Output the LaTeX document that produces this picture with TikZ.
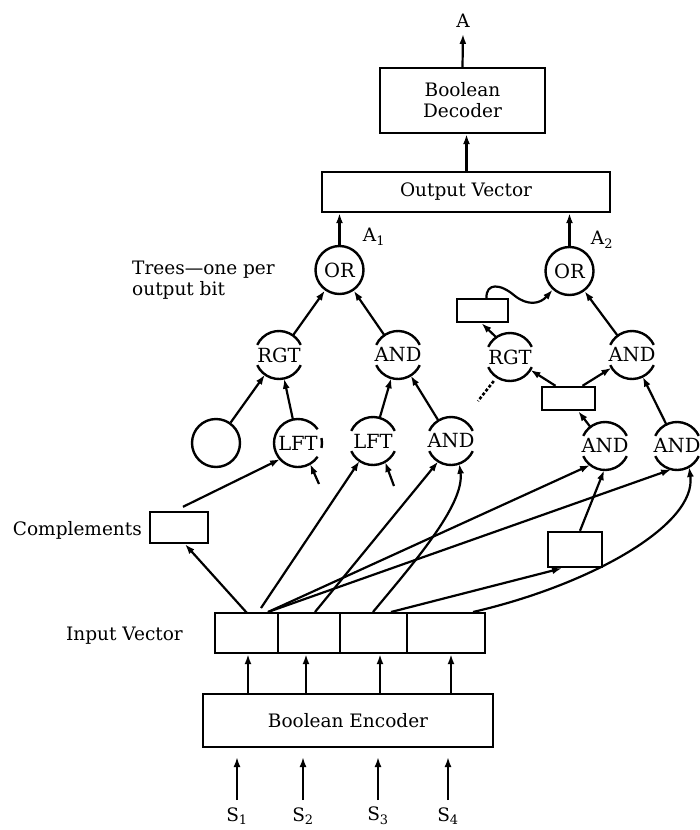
\documentclass[tikz,border=0pt]{standalone}
\usepackage{fontspec}
\setmainfont{DejaVu Serif}
\usetikzlibrary{arrows.meta}
\newcommand\myfnt{\fontsize{18.5}{21}\selectfont}
\newcommand\gatefnt{\fontsize{19.5}{21}\selectfont}
\tikzset{
  lbl/.style={font=\myfnt, inner sep=0pt},
  blk/.style={draw, line width=2.4pt, font=\myfnt, inner sep=0pt, align=center},
  gate/.style={circle, minimum size=48pt, inner sep=-9pt, font=\gatefnt},
  ring/.style={gate, draw, line width=2.4pt},
  gline/.style={line width=2.4pt},
  arr/.style={line width=2.2pt, -{Latex[length=10pt,width=7pt]}},
  wire/.style={line width=2.2pt},
  dotwire/.style={line width=2.6pt, dash pattern=on 3pt off 2pt},
}
\newcommand\gatearcs[1]{%
  \draw[gline] ([shift={(155:24pt)}]#1.center) arc[start angle=155,end angle=25,radius=24pt];
  \draw[gline] ([shift={(205:24pt)}]#1.center) arc[start angle=205,end angle=335,radius=24pt];}
\begin{document}
\begin{tikzpicture}[x=1pt,y=-1pt]
\useasboundingbox (0,0) rectangle (699,830);
\fill[white] (0,0) rectangle (699,830);

% top blocks
\node[lbl] (A) at (463,21) {A};
\node[blk, minimum width=165pt, minimum height=65pt] (dec) at (462.5,100.5) {Boolean\\Decoder};
\node[blk, minimum width=288pt, minimum height=40pt] (outv) at (466,192) {Output Vector};
\draw[arr] (dec.north) -- ([yshift=-6pt]A.south);
\coordinate (ov) at (466.5,172);
\draw[arr] (ov) -- (ov |- dec.south);

% OR nodes
\node[ring] (or1) at (339.5,270) {OR};
\node[ring] (or2) at (569.5,271) {OR};
\node[lbl] (a1) at (374,237) {A\textsubscript{1}};
\node[lbl] (a2) at (602,240) {A\textsubscript{2}};
\draw[arr] (or1.north) -- (or1.north |- outv.south);
\draw[arr] (or2.north) -- (or2.north |- outv.south);

\node[lbl, align=left, anchor=west] (trees) at (132,280) {Trees—one per\\output bit};

% left tree
\node[gate] (rgt1) at (279,355) {RGT};
\node[gate] (and1) at (398,355) {AND};
\node[ring] (circ) at (216,443) {};
\node[gate] (lft1) at (298,443) {LFT};
\node[gate] (lft2) at (373,441) {LFT};
\node[gate] (andb1) at (451,441) {AND};
\gatearcs{rgt1}
\gatearcs{and1}
\gatearcs{lft2}
\gatearcs{andb1}
\draw[gline] ([shift={(35:24pt)}]lft1.center) arc[start angle=35,end angle=325,radius=24pt];
\draw[gline] ([shift={(-12:24pt)}]lft1.center) arc[start angle=-12,end angle=12,radius=24pt];

\draw[arr] (rgt1) -- (or1);
\draw[arr] (and1) -- (or1);
\draw[arr] (circ) -- (rgt1);
\draw[arr] (lft1) -- (rgt1);
\draw[arr] (lft2) -- (and1);
\draw[arr] (andb1) -- (and1);

% right tree
\node[gate] (rgt2) at (510,357) {RGT};
\node[gate] (and2) at (632,355) {AND};
\node[gate] (andb2) at (605,446) {AND};
\node[gate] (andb3) at (677,446) {AND};
\gatearcs{rgt2}
\gatearcs{and2}
\gatearcs{andb2}
\gatearcs{andb3}
\node[blk, minimum width=51pt, minimum height=23pt] (r1) at (482.5,310.5) {};
\node[blk, minimum width=53pt, minimum height=23pt] (r2) at (568.5,398.5) {};

\draw[arr] (rgt2.125) -- ([xshift=-1pt]r1.south);
\draw[arr] ([xshift=4pt]r1.north) .. controls (486,283) and (500,283) .. (515,296)
   .. controls (528,306) and (540,304) .. (or2.228);
\draw[arr] (and2) -- (or2);
\draw[arr] (andb3) -- (and2);
\draw[arr] ([xshift=-13pt]r2.north) -- (rgt2);
\draw[arr] ([xshift=14pt]r2.north) -- (and2);
\draw[arr] (andb2) -- (r2);
\coordinate (dotend) at (478,401);
\draw[dotwire] ([shift={(236:29pt)}]rgt2.center) -- (dotend);

% complements and lower box
\node[blk, minimum width=58pt, minimum height=31pt] (comp) at (179,527.5) {};
\node[lbl, anchor=east] (compl) at (142,530) {Complements};
\node[blk, minimum width=54pt, minimum height=35pt] (r3) at (575,549.5) {};

% input vector
\node[blk, minimum width=63pt, minimum height=40pt] (ivA) at (246.5,633) {};
\node[blk, minimum width=62pt, minimum height=40pt] (ivB) at (309,633) {};
\node[blk, minimum width=67pt, minimum height=40pt] (ivC) at (373.5,633) {};
\node[blk, minimum width=78pt, minimum height=40pt] (ivD) at (446,633) {};
\node[lbl, anchor=east] (ivl) at (183,636) {Input Vector};

% stubs
\coordinate (st1) at (319,484);
\coordinate (st2) at (394,486);
\draw[arr] (st1) -- (lft1.300);
\draw[arr] (st2) -- (lft2.300);
\draw[arr] ([xshift=4pt,yshift=4pt]comp.north) -- (lft1.222);

% wires from input vector
\coordinate (p1) at (247,613);
\coordinate (p2) at (261,608);
\coordinate (p3) at (268,612);
\coordinate (p4) at (315,612);
\coordinate (p5) at (373,612);
\coordinate (p6) at (391,612);
\coordinate (p7) at (473,612);
\draw[arr] (p1) -- ([xshift=6pt]comp.south);
\draw[arr] (p2) -- (lft2.236);
\draw[arr] (p3) -- (andb2.232);
\draw[arr] (p3) -- (andb3.256);
\draw[arr] (p4) -- (andb1.238);
\draw[arr] (p5) .. controls (411,566) and (465,505) .. (andb1.290);
\draw[arr] (p6) -- ([xshift=-13pt]r3.south);
\draw[arr] (p7) .. controls (590,585) and (697,525) .. (andb3.300);
\draw[arr] ([xshift=5pt]r3.north) -- (andb2.268);

% encoder
\node[blk, minimum width=290pt, minimum height=53pt] (enc) at (348,720.5) {Boolean Encoder};
\coordinate (e1) at (248,694);
\coordinate (e2) at (306,694);
\coordinate (e3) at (380,694);
\coordinate (e4) at (451,694);
\draw[arr] (e1) -- (e1 |- ivA.south);
\draw[arr] (e2) -- (e2 |- ivB.south);
\draw[arr] (e3) -- (e3 |- ivC.south);
\draw[arr] (e4) -- (e4 |- ivD.south);

% sensor inputs
\node[lbl] (S1) at (237,816) {S\textsubscript{1}};
\node[lbl] (S2) at (303,816) {S\textsubscript{2}};
\node[lbl] (S3) at (378,816) {S\textsubscript{3}};
\node[lbl] (S4) at (448,816) {S\textsubscript{4}};
\coordinate (sb1) at (237,800); \coordinate (st1t) at (237,757);
\coordinate (sb2) at (303,800); \coordinate (st2t) at (303,757);
\coordinate (sb3) at (378,800); \coordinate (st3t) at (378,757);
\coordinate (sb4) at (448,800); \coordinate (st4t) at (448,757);
\draw[arr] (sb1) -- (st1t);
\draw[arr] (sb2) -- (st2t);
\draw[arr] (sb3) -- (st3t);
\draw[arr] (sb4) -- (st4t);
\end{tikzpicture}
\end{document}
